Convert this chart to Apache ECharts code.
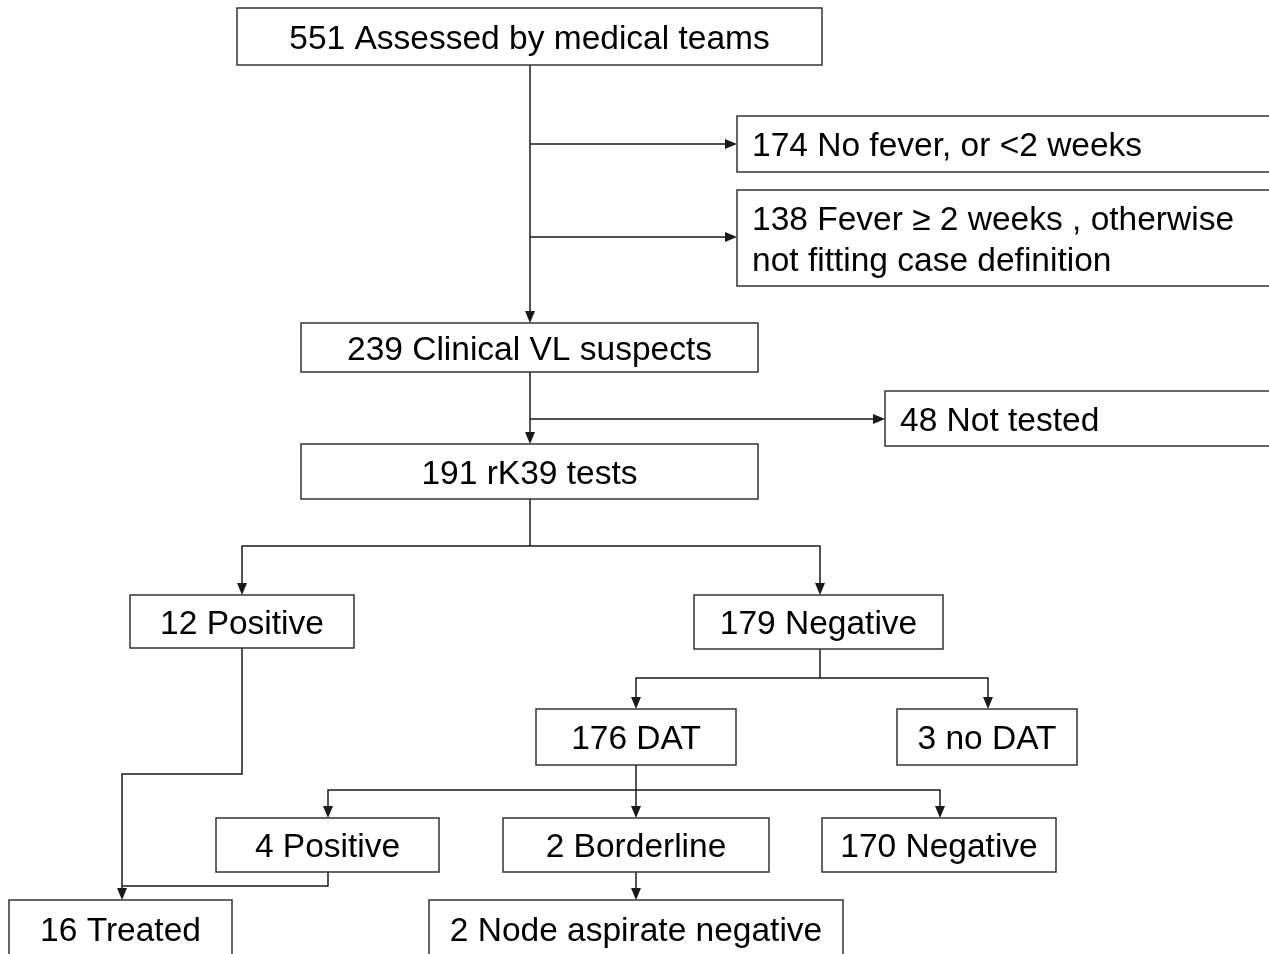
<!DOCTYPE html>
<html>
<head>
<meta charset="utf-8">
<script src="https://cdn.jsdelivr.net/npm/echarts@6/dist/echarts.min.js"></script>
<style>
html, body { margin: 0; padding: 0; background: #fff; }
#flow { width: 1269px; height: 954px; }
</style>
</head>
<body>
<div id="flow"></div>
<script>
// box texts, top to bottom
const boxLabels = [
    '551 Assessed by medical teams',
    '174 No fever, or <2 weeks',
    '138 Fever \u2265 2 weeks , otherwise\nnot fitting case definition',
    '239 Clinical VL suspects',
    '48 Not tested',
    '191 rK39 tests',
    '12 Positive',
    '179 Negative',
    '176 DAT',
    '3 no DAT',
    '4 Positive',
    '2 Borderline',
    '170 Negative',
    '16 Treated',
    '2 Node aspirate negative'
];

// box layout: [x0, y0, x1, y1] in page units
const boxLayout = [
    [237, 8, 822, 65],
    [737, 116, 1280, 172],
    [737, 190, 1280, 286],
    [301, 323, 758, 372],
    [885, 391, 1280, 446],
    [301, 444, 758, 499],
    [130, 595, 354, 648],
    [694, 595, 943, 649],
    [536, 709, 736, 765],
    [897, 709, 1077, 765],
    [216, 818, 439, 872],
    [503, 818, 769, 872],
    [822, 818, 1056, 872],
    [9, 900, 232, 957],
    [429, 900, 843, 957]
];
// boxes whose text starts at the left
const leftAligned = [1, 2, 4];

// connectors: point lists, last point gets an arrow when flagged
const edgePaths = [
    [[530, 65], [530, 323]],
    [[530, 144], [737, 144]],
    [[530, 237], [737, 237]],
    [[530, 372], [530, 444]],
    [[530, 419], [885, 419]],
    [[530, 499], [530, 546]],
    [[530, 546], [242, 546], [242, 595]],
    [[530, 546], [820, 546], [820, 595]],
    [[820, 649], [820, 678]],
    [[820, 678], [636, 678], [636, 709]],
    [[820, 678], [988, 678], [988, 709]],
    [[636, 765], [636, 818]],
    [[636, 790], [328, 790], [328, 818]],
    [[636, 790], [940, 790], [940, 818]],
    [[242, 648], [242, 774], [122, 774], [122, 900]],
    [[328, 872], [328, 886], [122, 886]],
    [[636, 872], [636, 900]]
];
const edgeArrow = [1, 1, 1, 1, 1, 0, 1, 1, 0, 1, 1, 1, 1, 1, 1, 0, 1];

const lineColor = '#1a1a1a';

const chart = echarts.init(document.getElementById('flow'));

function renderBox(params, api) {
    const r = boxLayout[params.dataIndex];
    const p0 = api.coord([r[0], r[1]]);
    const p1 = api.coord([r[2], r[3]]);
    const left = leftAligned.indexOf(params.dataIndex) >= 0;
    return {
        type: 'group',
        children: [{
            type: 'rect',
            shape: { x: p0[0], y: p0[1], width: p1[0] - p0[0], height: p1[1] - p0[1] },
            style: { fill: '#fff', stroke: '#333', lineWidth: 1.5 }
        }, {
            type: 'text',
            x: left ? p0[0] + 15 : (p0[0] + p1[0]) / 2,
            y: (p0[1] + p1[1]) / 2 + 3,
            style: {
                text: boxLabels[params.dataIndex],
                fill: '#000',
                font: '33.5px "Liberation Sans", Arial, sans-serif',
                lineHeight: 41,
                align: left ? 'left' : 'center',
                verticalAlign: 'middle'
            }
        }]
    };
}

function renderEdge(params, api) {
    const pts = edgePaths[params.dataIndex].map(p => api.coord(p));
    const children = [];
    if (edgeArrow[params.dataIndex]) {
        const n = pts.length;
        const end = pts[n - 1], prev = pts[n - 2];
        const dx = end[0] - prev[0], dy = end[1] - prev[1];
        const len = Math.sqrt(dx * dx + dy * dy);
        const ux = dx / len, uy = dy / len;
        const al = 12, aw = 5;
        const bx = end[0] - ux * al, by = end[1] - uy * al;
        pts[n - 1] = [bx, by];
        children.push({
            type: 'polygon',
            shape: { points: [end, [bx - uy * aw, by + ux * aw], [bx + uy * aw, by - ux * aw]] },
            style: { fill: lineColor }
        });
    }
    children.unshift({
        type: 'polyline',
        shape: { points: pts },
        style: { stroke: lineColor, lineWidth: 1.5, fill: null }
    });
    return { type: 'group', children: children };
}

const option = {
    animation: false,
    backgroundColor: '#fff',
    grid: { left: 0, right: 0, top: 0, bottom: 0 },
    xAxis: { type: 'value', min: 0, max: 1269, show: false },
    yAxis: { type: 'value', min: 0, max: 954, inverse: true, show: false },
    series: [{
        type: 'custom',
        clip: false,
        renderItem: renderEdge,
        data: edgePaths.map(e => [e[0][0], e[0][1]])
    }, {
        type: 'custom',
        clip: false,
        renderItem: renderBox,
        data: boxLayout.map(r => [r[0], r[1]])
    }]
};

chart.setOption(option);
</script>
</body>
</html>
